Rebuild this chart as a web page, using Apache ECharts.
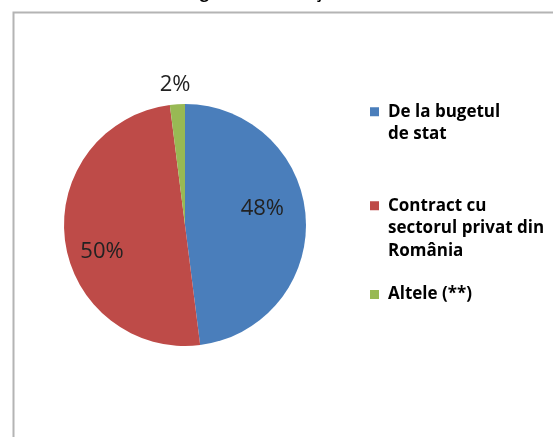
<!DOCTYPE html>
<html>
<head>
<meta charset="utf-8">
<script src="https://cdn.jsdelivr.net/npm/echarts@6/dist/echarts.min.js"></script>
<style>
  html, body { margin: 0; padding: 0; background: #fff; }
  #chart { width: 553px; height: 437px; }
</style>
</head>
<body>
<div id="chart"></div>
<script>
// surse de finantare (%)
var categories = ["De la bugetul\nde stat", "Contract cu\nsectorul privat din\nRomânia", "Altele (**)"];
var values = [48, 50, 2];
var colors = ["#4A7EBB", "#BE4B48", "#98B954"];

// small nudges so the percent labels sit where Excel put them
var labelNudge = [[14, -12], [-20, 19], [-6, -77]];

var lineH = 22.5;

var chart = echarts.init(document.getElementById("chart"));

// the legend square is centred on the text block, so pad the block with
// empty lines above to line the square up with the first line
function legendText(name) {
  var n = name.split("\n").length;
  var pad = n > 1 ? new Array(n).join("\n") : "\n";
  var tail = n > 1 ? "" : "\n";
  return pad + name + tail;
}

chart.setOption({
  animation: false,
  title: {
    text: "Regiunea Bucureşti, 2010",
    left: 180,
    top: -15,
    padding: 0,
    textStyle: { fontFamily: "Open Sans", fontSize: 16, fontWeight: "bold", color: "#000" }
  },
  graphic: [{
    type: "rect",
    left: 11,
    top: 10,
    shape: { width: 600, height: 500 },
    style: { fill: "none", stroke: "#b4b4b4", lineWidth: 2 },
    silent: true
  }],
  legend: {
    orient: "vertical",
    left: 370,
    top: 78,
    padding: 0,
    itemWidth: 9,
    itemHeight: 9,
    itemGap: 4,
    icon: "rect",
    formatter: legendText,
    data: [
      { name: categories[0] },
      { name: categories[1] },
      { name: categories[2], textStyle: { lineHeight: 19 } }
    ],
    textStyle: {
      fontFamily: "Open Sans",
      fontSize: 17,
      fontWeight: "bold",
      color: "#000",
      lineHeight: lineH,
      padding: [0, 0, 0, 4]
    }
  },
  series: [{
    type: "pie",
    center: [185, 225],
    radius: 121,
    startAngle: 90,
    clockwise: true,
    color: colors,
    data: categories.map(function (c, i) { return { name: c, value: values[i] }; }),
    label: {
      show: true,
      position: "inside",
      formatter: "{c}%",
      fontFamily: "Open Sans",
      fontSize: 22,
      color: "#222"
    },
    labelLine: { show: false },
    labelLayout: function (p) {
      var n = labelNudge[p.dataIndex];
      return { dx: n[0], dy: n[1] };
    },
    itemStyle: { borderWidth: 0 },
    emphasis: { disabled: true }
  }]
});
</script>
</body>
</html>
